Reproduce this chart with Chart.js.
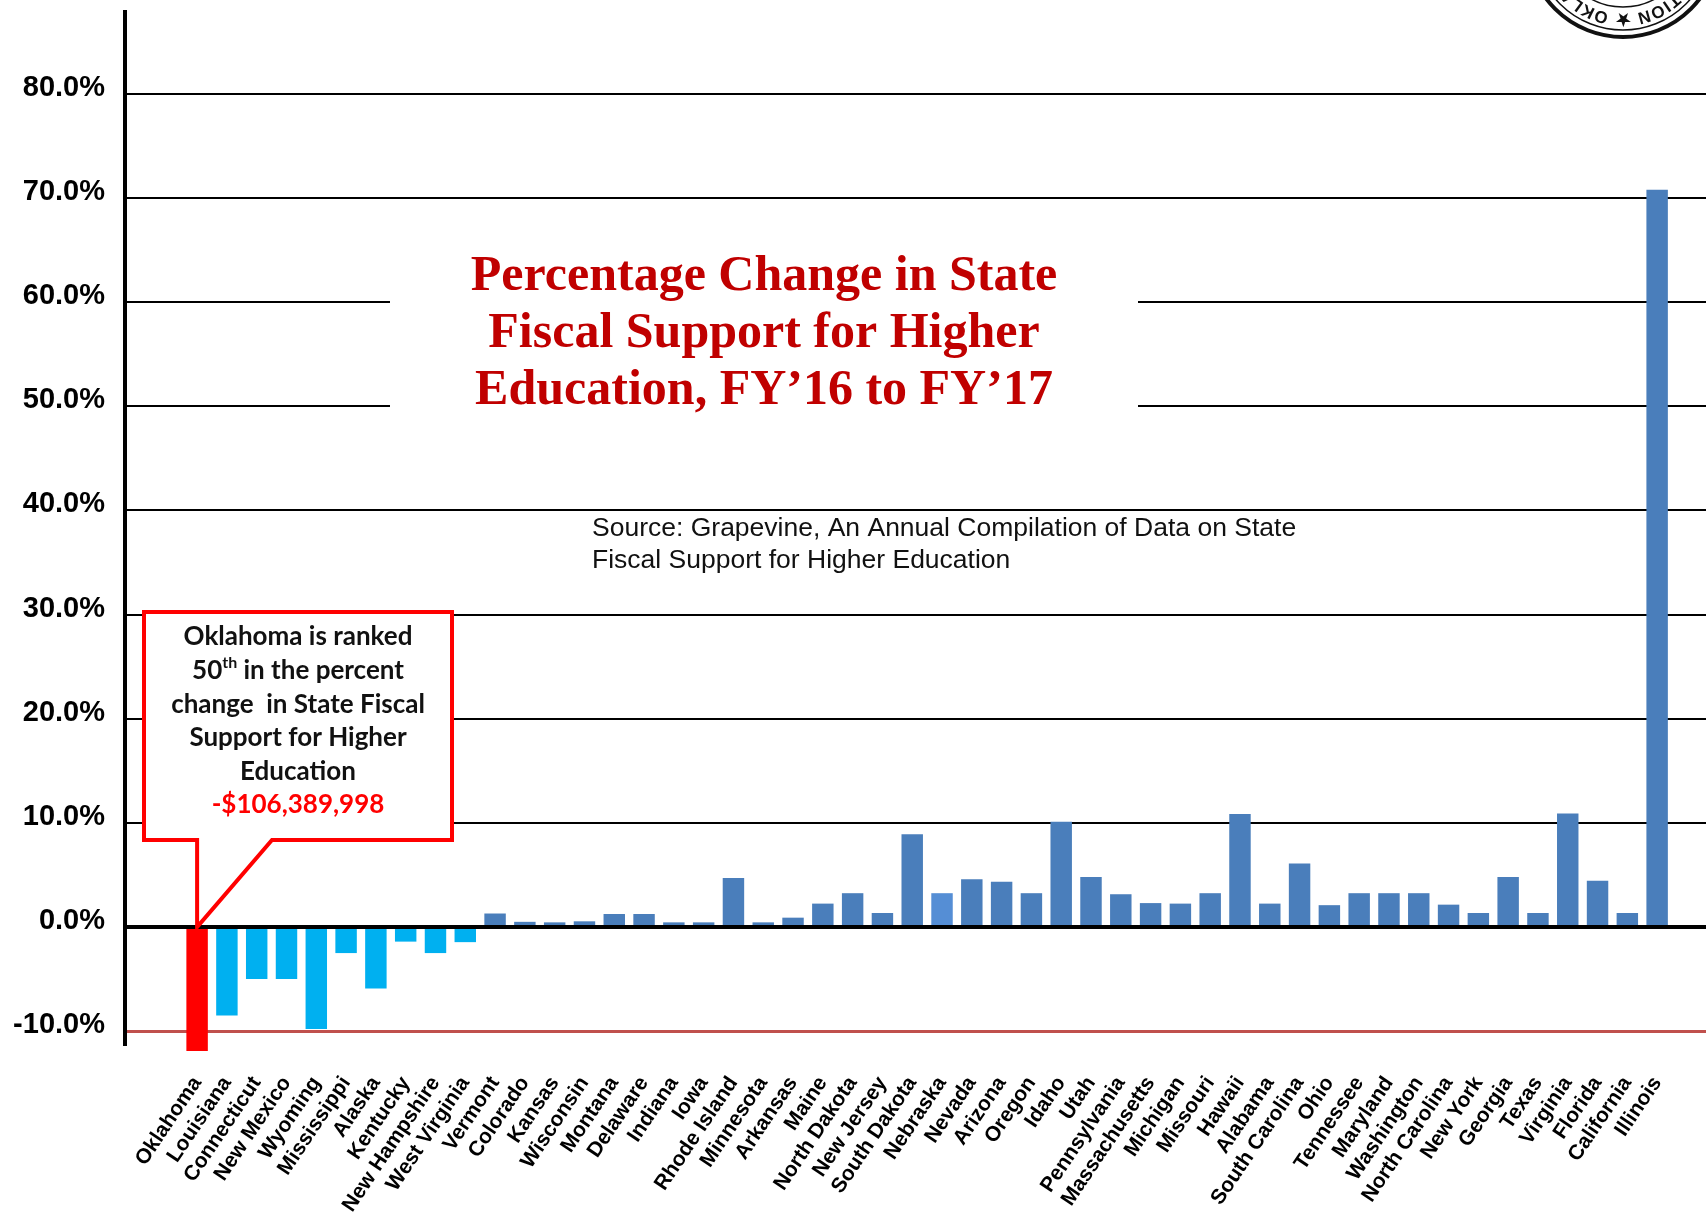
<!DOCTYPE html>
<html>
<head>
<meta charset="utf-8">
<script src="https://cdn.jsdelivr.net/npm/chart.js@4.4.1/dist/chart.umd.min.js"></script>
<style>
  html, body { margin: 0; padding: 0; background: #fff; }
  canvas { display: block; }
</style>
</head>
<body>
<canvas id="stateChart" width="1706" height="1217"></canvas>
<script>
"use strict";

// states ordered as in the original graphic (lowest change first)
const states = [
    'Oklahoma', 'Louisiana', 'Connecticut', 'New Mexico', 'Wyoming', 'Mississippi', 'Alaska',
    'Kentucky', 'New Hampshire', 'West Virginia', 'Vermont', 'Colorado', 'Kansas', 'Wisconsin',
    'Montana', 'Delaware', 'Indiana', 'Iowa', 'Rhode Island', 'Minnesota', 'Arkansas', 'Maine',
    'North Dakota', 'New Jersey', 'South Dakota', 'Nebraska', 'Nevada', 'Arizona', 'Oregon',
    'Idaho', 'Utah', 'Pennsylvania', 'Massachusetts', 'Michigan', 'Missouri', 'Hawaii', 'Alabama',
    'South Carolina', 'Ohio', 'Tennessee', 'Maryland', 'Washington', 'North Carolina', 'New York',
    'Georgia', 'Texas', 'Virginia', 'Florida', 'California', 'Illinois'
];

// percent change FY16 -> FY17
const pctChange = [
    -11.9, -8.5, -5.0, -5.0, -9.8, -2.5, -5.9,
    -1.4, -2.5, -1.45, 1.3, 0.5, 0.45, 0.55,
    1.25, 1.25, 0.45, 0.45, 4.7, 0.45, 0.9, 2.25,
    3.25, 1.35, 8.9, 3.25, 4.6, 4.35, 3.25,
    10.1, 4.8, 3.15, 2.3, 2.25, 3.25, 10.85, 2.25,
    6.1, 2.1, 3.25, 3.25, 3.25, 2.15, 1.35,
    4.8, 1.35, 10.9, 4.45, 1.35, 70.8
];

const yTicks = [-10, 0, 10, 20, 30, 40, 50, 60, 70, 80];

const titleLines = [
    'Percentage Change in State',
    'Fiscal Support for Higher',
    'Education, FY\u201916 to FY\u201917'
];
const sourceLines = [
    'Source: Grapevine, An Annual Compilation of Data on State',
    'Fiscal Support for Higher Education'
];
const calloutLines = ['Oklahoma is ranked', '50|th| in the percent', 'change  in State Fiscal', 'Support for Higher', 'Education'];
const calloutAmount = '-$106,389,998';
const highlightState = 'Oklahoma';
const lighterState = 'Nebraska';
const sealText = 'HIGHER EDUCATION \u2605 OKLAHOMA STATE';

const canvas = document.getElementById('stateChart');
const ctx = canvas.getContext('2d');

function barColor(name, value) {
    if (name === highlightState) return '#FF0000';
    if (value < 0) return '#00B0F0';
    if (name === lighterState) return '#558ED5';
    return '#4A7EBB';
}

function drawSeal(c) {
    const sx = 1623, sy = -59, r = 78;
    c.strokeStyle = '#111';
    c.lineWidth = 4;
    c.beginPath(); c.arc(sx, sy, 96, 0, Math.PI * 2); c.stroke();
    c.lineWidth = 1.5;
    c.beginPath(); c.arc(sx, sy, 89, 0, Math.PI * 2); c.stroke();
    c.beginPath(); c.arc(sx, sy, 66, 0, Math.PI * 2); c.stroke();
    c.fillStyle = '#111';
    c.font = 'bold 17px "Liberation Sans", sans-serif';
    c.textAlign = 'center';
    c.textBaseline = 'middle';
    const chars = Array.from(sealText);
    const widths = chars.map(ch => c.measureText(ch).width + 1.5);
    const starIdx = chars.indexOf('\u2605');
    let before = 0;
    for (let i = 0; i < starIdx; i++) before += widths[i];
    before += widths[starIdx] / 2;
    // text runs clockwise, star sits at the bottom of the ring
    let ang = Math.PI / 2 - before / r;
    chars.forEach((ch, i) => {
        const step = widths[i] / r;
        ang += step / 2;
        c.save();
        c.translate(sx + r * Math.cos(ang), sy + r * Math.sin(ang));
        c.rotate(ang + Math.PI / 2);
        c.fillText(ch, 0, 0);
        c.restore();
        ang += step / 2;
    });
}

const decorPlugin = {
    id: 'decor',
    afterDatasetsDraw(chart) {
        const c = chart.ctx;
        const area = chart.chartArea;
        const y0 = chart.scales.y.getPixelForValue(0);
        c.save();
        c.strokeStyle = '#000';
        c.lineWidth = 4;
        c.beginPath();
        c.moveTo(area.left, y0);
        c.lineTo(area.right, y0);
        c.stroke();
        c.restore();
    },
    afterDraw(chart) {
        const c = chart.ctx;
        const xs = chart.scales.x;
        const ys = chart.scales.y;
        c.save();

        // title on a white panel that breaks the gridlines
        c.fillStyle = '#fff';
        c.fillRect(390, 228, 748, 190);
        c.fillStyle = '#C00000';
        c.font = 'bold 50px "Liberation Serif", serif';
        c.textAlign = 'center';
        c.textBaseline = 'alphabetic';
        titleLines.forEach((t, i) => c.fillText(t, 764, 290 + i * 57));

        // source note
        c.fillStyle = '#111';
        c.font = '26.5px "Liberation Sans", Arial, sans-serif';
        c.textAlign = 'left';
        sourceLines.forEach((t, i) => c.fillText(t, 592, 536 + i * 32));

        // callout box pointing at Oklahoma's bar
        const tipX = xs.getPixelForValue(0);
        const tipY = ys.getPixelForValue(0);
        c.beginPath();
        c.moveTo(144, 612);
        c.lineTo(452, 612);
        c.lineTo(452, 840);
        c.lineTo(272, 840);
        c.lineTo(tipX, tipY);
        c.lineTo(tipX, 840);
        c.lineTo(144, 840);
        c.closePath();
        c.fillStyle = '#fff';
        c.fill();
        c.strokeStyle = '#FF0000';
        c.lineWidth = 4;
        c.lineJoin = 'miter';
        c.stroke();

        c.textBaseline = 'middle';
        c.fillStyle = '#111';
        const bodyFont = 'bold 26px Lato, "Open Sans", sans-serif';
        const supFont = 'bold 16px Lato, "Open Sans", sans-serif';
        calloutLines.forEach((line, i) => {
            const y = 637 + i * 33.6;
            const parts = line.split('|');
            const widths = parts.map((p, k) => {
                c.font = k === 1 ? supFont : bodyFont;
                return c.measureText(p).width;
            });
            let x = 298 - widths.reduce((a, b) => a + b, 0) / 2;
            c.textAlign = 'left';
            parts.forEach((p, k) => {
                c.font = k === 1 ? supFont : bodyFont;
                c.fillText(p, x, k === 1 ? y - 8 : y);
                x += widths[k];
            });
        });
        c.font = bodyFont;
        c.textAlign = 'center';
        c.fillStyle = '#FF0000';
        c.fillText(calloutAmount, 298, 637 + 5 * 33.6);

        drawSeal(c);
        c.restore();
    }
};

const chart = new Chart(ctx, {
    type: 'bar',
    data: {
        datasets: [{
            data: states.map((s, i) => ({ x: i, y: pctChange[i] })),
            backgroundColor: states.map((s, i) => barColor(s, pctChange[i])),
            borderWidth: 0,
            barPercentage: 0.72,
            categoryPercentage: 1.0,
            clip: false
        }]
    },
    options: {
        responsive: false,
        animation: false,
        devicePixelRatio: 1,
        layout: { padding: { top: 12, right: 0, left: 0, bottom: 0 } },
        plugins: {
            legend: { display: false },
            tooltip: { enabled: false }
        },
        scales: {
            x: {
                type: 'linear',
                offset: false,
                min: -2.42,
                max: 50.64,
                afterBuildTicks: scale => {
                    scale.ticks = states.map((s, i) => ({ value: i }));
                },
                afterFit: scale => {
                    scale.height = 173;
                    scale.paddingLeft = 0;
                    scale.paddingRight = 0;
                },
                grid: { display: false },
                border: { display: false },
                ticks: {
                    autoSkip: false,
                    maxRotation: 56,
                    minRotation: 56,
                    padding: 20,
                    color: '#000',
                    font: { family: '"Liberation Sans", Arial, sans-serif', size: 21, weight: 'bold' },
                    callback: v => states[v]
                }
            },
            y: {
                min: -11.23,
                max: 87.86,
                afterBuildTicks: scale => {
                    scale.ticks = yTicks.map(v => ({ value: v }));
                },
                afterFit: scale => {
                    scale.width = 125;
                    scale.paddingTop = 0;
                    scale.paddingBottom = 0;
                },
                grid: {
                    drawTicks: false,
                    color: c => c.tick && c.tick.value === -10 ? '#C0504D' : '#000',
                    lineWidth: c => c.tick && c.tick.value === -10 ? 3 : 2
                },
                border: { display: true, color: '#000', width: 4 },
                ticks: {
                    padding: 20,
                    labelOffset: -6,
                    color: '#000',
                    font: { family: '"Liberation Sans", Arial, sans-serif', size: 29, weight: 'bold' },
                    callback: v => v.toFixed(1) + '%'
                }
            }
        }
    },
    plugins: [decorPlugin]
});
</script>
</body>
</html>
